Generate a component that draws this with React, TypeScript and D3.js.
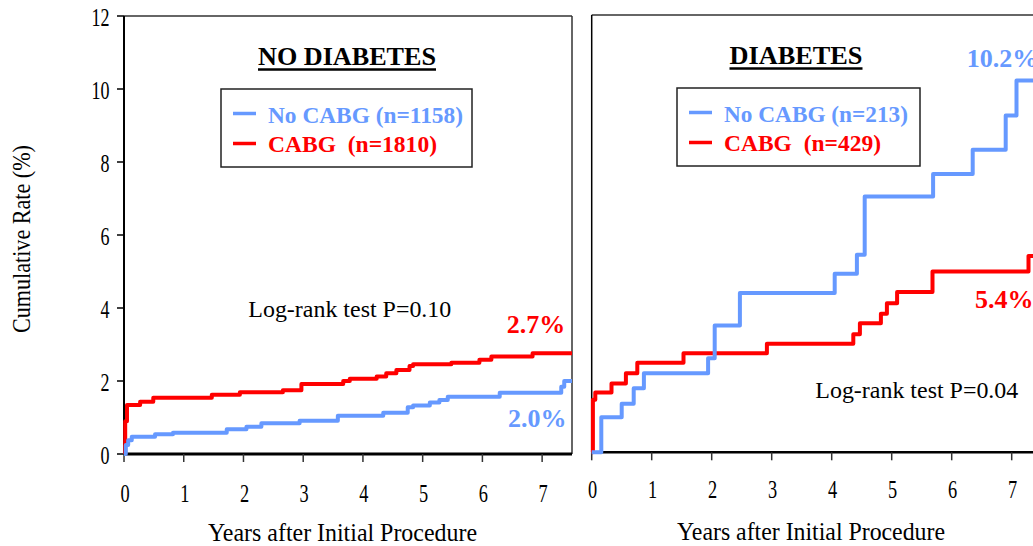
import * as d3 from "d3";
import React from "react";

// years after procedure / cumulative rate (%)
const noDiabNoCabgT = [0, 0.03, 0.07, 0.13, 0.52, 0.82, 1.72, 2.05, 2.3, 2.94, 3.58, 4.34, 4.75, 4.84, 5.12, 5.28, 5.42, 6.29, 7.32, 7.37, 7.5];
const noDiabNoCabgV = [0, 0.25, 0.38, 0.47, 0.54, 0.58, 0.68, 0.75, 0.84, 0.91, 1.05, 1.13, 1.28, 1.33, 1.41, 1.48, 1.57, 1.68, 1.84, 2.0, 2.0];

const noDiabCabgT = [0, 0.02, 0.05, 0.27, 0.49, 1.47, 1.94, 2.66, 2.97, 3.67, 3.78, 4.23, 4.39, 4.56, 4.78, 4.84, 5.48, 5.95, 6.15, 6.84, 7.5];
const noDiabCabgV = [0, 0.9, 1.34, 1.43, 1.54, 1.62, 1.69, 1.75, 1.92, 2.0, 2.06, 2.12, 2.21, 2.3, 2.41, 2.46, 2.5, 2.58, 2.67, 2.76, 2.76];

const diabNoCabgT = [0, 0.16, 0.5, 0.7, 0.87, 1.94, 2.05, 2.47, 4.05, 4.42, 4.55, 5.69, 6.35, 6.9, 7.08, 7.5];
const diabNoCabgV = [0, 0.96, 1.33, 1.76, 2.17, 2.58, 3.48, 4.37, 4.9, 5.42, 7.02, 7.64, 8.3, 9.24, 10.2, 10.2];

const diabCabgT = [0, 0.02, 0.06, 0.33, 0.57, 0.76, 1.53, 2.92, 4.36, 4.47, 4.82, 4.92, 5.09, 5.68, 7.28, 7.5];
const diabCabgV = [0, 1.44, 1.64, 1.89, 2.17, 2.46, 2.72, 2.98, 3.24, 3.54, 3.8, 4.09, 4.4, 4.96, 5.39, 5.39];

const xTicks = [0, 1, 2, 3, 4, 5, 6, 7];
const yTicks = [0, 2, 4, 6, 8, 10, 12];

const BLUE = "#6699ff";
const RED = "#ff0000";
const SERIF = "'Liberation Serif', 'Times New Roman', serif";

type Pt = [number, number];
const zip = (t: number[], v: number[]): Pt[] => t.map((d, i) => [d, v[i]]);

interface PanelProps {
  x0: number;
  x1: number;
  yTop: number;
  yBottom: number;
  blue: Pt[];
  red: Pt[];
  tickLabelY: number;
  boxed: boolean;
}

const Panel: React.FC<PanelProps> = ({ x0, x1, yTop, yBottom, blue, red, tickLabelY, boxed }) => {
  const x = d3.scaleLinear().domain([0, 7.5]).range([x0, x1]);
  const y = d3.scaleLinear().domain([0, 12]).range([yBottom, yTop]);
  const line = d3
    .line<Pt>()
    .x((d) => x(d[0]))
    .y((d) => y(d[1]))
    .curve(d3.curveStepAfter);

  return (
    <g>
      {/* frame */}
      <line x1={x0} x2={x1} y1={yTop} y2={yTop} stroke="#333" strokeWidth={1.5} />
      {boxed && <line x1={x1} x2={x1} y1={yTop} y2={yBottom} stroke="#333" strokeWidth={1.5} />}
      <line x1={x0} x2={x0} y1={yTop} y2={yBottom} stroke="#000" strokeWidth={boxed ? 2 : 1.5} />
      <line x1={x0} x2={x1} y1={yBottom} y2={yBottom} stroke="#000" strokeWidth={boxed ? 3 : 2.5} />

      {/* x ticks */}
      {xTicks.map((t) => (
        <g key={t}>
          <line x1={x(t)} x2={x(t)} y1={yBottom} y2={yBottom + 8} stroke="#333" strokeWidth={1.5} />
          <text
            transform={`translate(${x(t) + 1},${tickLabelY}) scale(0.72,1)`}
            textAnchor="middle"
            fontFamily={SERIF}
            fontSize={25.5}
          >
            {t}
          </text>
        </g>
      ))}

      {/* curves */}
      <path d={line(red) || ""} fill="none" stroke={RED} strokeWidth={4} strokeLinejoin="round" />
      <path d={line(blue) || ""} fill="none" stroke={BLUE} strokeWidth={4} strokeLinejoin="round" />
    </g>
  );
};

const Legend: React.FC<{ x: number; y: number; w: number; blueText: string; redText: string; blueLen: number; redLen: number }> = ({
  x,
  y,
  w,
  blueText,
  redText,
  blueLen,
  redLen,
}) => (
  <g>
    <rect x={x} y={y} width={w} height={78} fill="#fff" stroke="#222" strokeWidth={1.5} />
    <line x1={x + 12} x2={x + 35} y1={y + 24.5} y2={y + 24.5} stroke={BLUE} strokeWidth={3.5} />
    <line x1={x + 12} x2={x + 35} y1={y + 54.5} y2={y + 54.5} stroke={RED} strokeWidth={3.5} />
    <text
      x={x + 47}
      y={y + 33.5}
      fill={BLUE}
      fontFamily={SERIF}
      fontWeight="bold"
      fontSize={23}
      textLength={blueLen}
      lengthAdjust="spacingAndGlyphs"
      style={{ whiteSpace: "pre" }}
    >
      {blueText}
    </text>
    <text
      x={x + 47}
      y={y + 63}
      fill={RED}
      fontFamily={SERIF}
      fontWeight="bold"
      fontSize={23}
      textLength={redLen}
      lengthAdjust="spacingAndGlyphs"
      style={{ whiteSpace: "pre" }}
    >
      {redText}
    </text>
  </g>
);

const Title: React.FC<{ cx: number; y: number; w: number; label: string }> = ({ cx, y, w, label }) => (
  <g>
    <text
      x={cx}
      y={y}
      textAnchor="middle"
      fontFamily={SERIF}
      fontWeight="bold"
      fontSize={26}
      textLength={w}
      lengthAdjust="spacingAndGlyphs"
    >
      {label}
    </text>
    <line x1={cx - w / 2} x2={cx + w / 2} y1={y + 4.5} y2={y + 4.5} stroke="#000" strokeWidth={2.5} />
  </g>
);

const App: React.FC = () => {
  const yLeft = d3.scaleLinear().domain([0, 12]).range([454, 16]);

  return (
    <svg width={1033} height={546} style={{ position: "absolute", left: 0, top: 0, background: "#fff" }}>
      <rect width={1033} height={546} fill="#fff" />

      {/* left y axis ticks & labels */}
      {yTicks.map((t) => (
        <g key={t}>
          <line x1={117} x2={124} y1={yLeft(t)} y2={yLeft(t)} stroke="#000" strokeWidth={1.5} />
          <text
            transform={`translate(109.5,${yLeft(t) + 10}) scale(0.72,1)`}
            textAnchor="end"
            fontFamily={SERIF}
            fontSize={25}
          >
            {t}
          </text>
        </g>
      ))}

      <Panel
        x0={124}
        x1={572}
        yTop={16}
        yBottom={454}
        blue={zip(noDiabNoCabgT, noDiabNoCabgV)}
        red={zip(noDiabCabgT, noDiabCabgV)}
        tickLabelY={501.5}
        boxed={true}
      />
      <Panel
        x0={591.7}
        x1={1041.7}
        yTop={15}
        yBottom={452.3}
        blue={zip(diabNoCabgT, diabNoCabgV)}
        red={zip(diabCabgT, diabCabgV)}
        tickLabelY={497.5}
        boxed={false}
      />

      {/* axis titles */}
      <text
        transform="translate(30,239) rotate(-90)"
        textAnchor="middle"
        fontFamily={SERIF}
        fontSize={25}
        textLength={188}
        lengthAdjust="spacingAndGlyphs"
      >
        Cumulative Rate (%)
      </text>
      <text x={342.5} y={541} textAnchor="middle" fontFamily={SERIF} fontSize={26} textLength={269} lengthAdjust="spacingAndGlyphs">
        Years after Initial Procedure
      </text>
      <text x={811} y={540} textAnchor="middle" fontFamily={SERIF} fontSize={26} textLength={268} lengthAdjust="spacingAndGlyphs">
        Years after Initial Procedure
      </text>

      {/* panel titles */}
      <Title cx={347} y={65} w={178} label="NO DIABETES" />
      <Title cx={796} y={64} w={133} label="DIABETES" />

      {/* legends */}
      <Legend x={221} y={89} w={251} blueText="No CABG (n=1158)" redText="CABG  (n=1810)" blueLen={195} redLen={169} />
      <Legend x={677} y={88} w={243} blueText="No CABG (n=213)" redText="CABG  (n=429)" blueLen={184} redLen={157} />

      {/* log-rank notes */}
      <text x={248.3} y={316.5} fontFamily={SERIF} fontSize={24} textLength={203} lengthAdjust="spacingAndGlyphs">
        Log-rank test P=0.10
      </text>
      <text x={815.3} y={398.3} fontFamily={SERIF} fontSize={24} textLength={203} lengthAdjust="spacingAndGlyphs">
        Log-rank test P=0.04
      </text>

      {/* end-point rates */}
      <text x={506.7} y={332.7} fill={RED} fontFamily={SERIF} fontWeight="bold" fontSize={26}>
        2.7%
      </text>
      <text x={508} y={426.7} fill={BLUE} fontFamily={SERIF} fontWeight="bold" fontSize={26}>
        2.0%
      </text>
      <text x={966.7} y={66.7} fill={BLUE} fontFamily={SERIF} fontWeight="bold" fontSize={26}>
        10.2%
      </text>
      <text x={975} y={308} fill={RED} fontFamily={SERIF} fontWeight="bold" fontSize={26}>
        5.4%
      </text>
    </svg>
  );
};

export default App;
